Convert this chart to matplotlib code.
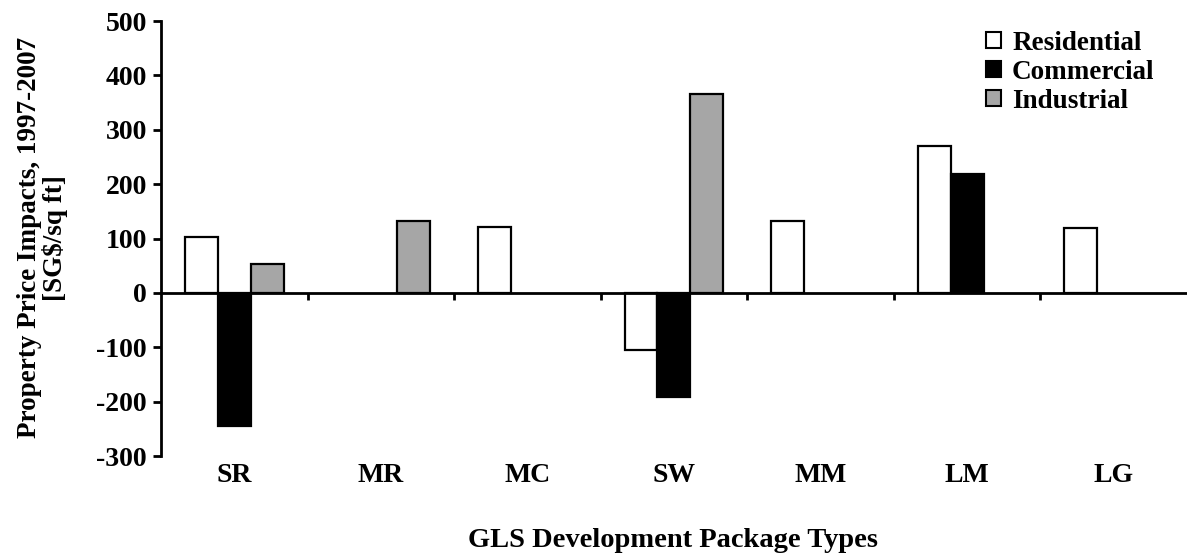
import numpy as np
import matplotlib.pyplot as plt
from matplotlib.patches import Patch
from matplotlib.transforms import blended_transform_factory

plt.rcParams['font.family'] = 'Liberation Serif'
plt.rcParams['font.weight'] = 'bold'
plt.rcParams['axes.unicode_minus'] = False

categories = ['SR', 'MR', 'MC', 'SW', 'MM', 'LM', 'LG']
residential = [103, 0, 121, -105, 132, 270, 120]
commercial = [-244, 0, 0, -191, 0, 219, 0]
industrial = [53, 132, 0, 366, 0, 0, 0]
series_names = ['Residential', 'Commercial', 'Industrial']
colors = ['white', 'black', '#a6a6a6']

fig = plt.figure(figsize=(11.87, 5.53), dpi=100)
ax = fig.add_axes([0.1356, 0.1754, 0.8644, 0.7866])

x = np.arange(len(categories))
w = 0.225
for k, (vals, c) in enumerate(zip([residential, commercial, industrial], colors)):
    v = np.array(vals, dtype=float)
    mask = v != 0
    ax.bar(x[mask] + (k - 1) * w, v[mask], width=w, color=c,
           edgecolor='black', linewidth=1.6, zorder=3)

ax.set_xlim(-0.5, len(categories) - 0.5)
ax.set_ylim(-300, 500)
ax.set_yticks(np.arange(-300, 501, 100))
ax.tick_params(axis='y', labelsize=20, width=2, length=6, direction='out', pad=4)

for s in ['top', 'right']:
    ax.spines[s].set_visible(False)
ax.spines['left'].set_linewidth(2)
ax.spines['bottom'].set_position(('data', 0))
ax.spines['bottom'].set_linewidth(2)
ax.spines['bottom'].set_zorder(4)

ax.set_xticks(np.arange(0.5, len(categories) - 0.5, 1))
ax.set_xticklabels([])
ax.tick_params(axis='x', width=2, length=5, direction='out')

tr = blended_transform_factory(ax.transData, ax.transAxes)
for i, cat in enumerate(categories):
    ax.text(i, -0.015, cat, transform=tr, ha='center', va='top',
            fontsize=20, fontweight='bold')

for lbl in ax.get_yticklabels():
    lbl.set_fontweight('bold')

fig.text(0.567, 0.0, 'GLS Development Package Types', ha='center', va='bottom',
         fontsize=20.5, fontweight='bold')
fig.text(0.036, 0.57, 'Property Price Impacts, 1997-2007\n[SG\\$/sq ft]',
         rotation=90, ha='center', va='center', fontsize=19.5,
         fontweight='bold', linespacing=1.0)

handles = [Patch(facecolor=c, edgecolor='black', linewidth=1.5) for c in colors]
ax.legend(handles, series_names, loc='upper right', bbox_to_anchor=(0.979, 1.003),
          frameon=False, prop={'size': 19.5, 'weight': 'bold'},
          handlelength=0.55, handleheight=0.55, handletextpad=0.4,
          labelspacing=0.15, borderaxespad=0.0)

fig.savefig('out.png', dpi=100)
